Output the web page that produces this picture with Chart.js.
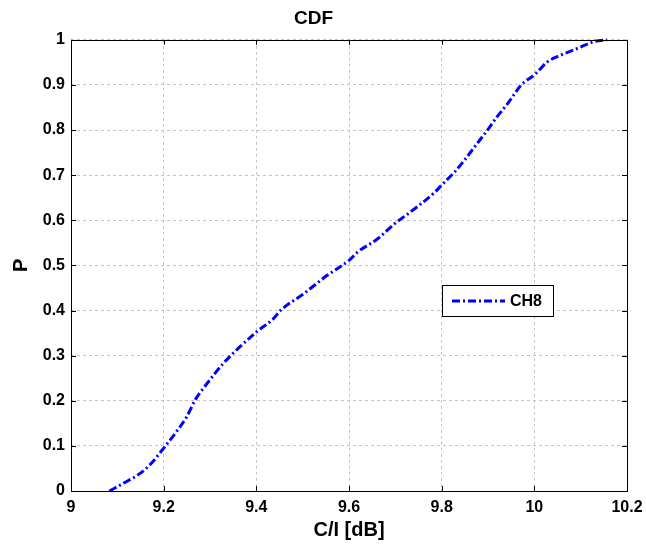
<!DOCTYPE html>
<html>
<head>
<meta charset="utf-8">
<script src="https://cdn.jsdelivr.net/npm/chart.js@4.4.1/dist/chart.umd.min.js"></script>
<style>
  html, body { margin: 0; padding: 0; background: #fff; }
</style>
</head>
<body>
<canvas id="cdf" width="646" height="546"></canvas>
<script>
// C/I values [dB] and cumulative probability
const ciValues = [
  9.083, 9.113, 9.149, 9.174, 9.203, 9.228, 9.250, 9.268, 9.286, 9.329,
  9.365, 9.401, 9.437, 9.452, 9.502, 9.553, 9.600, 9.618, 9.662, 9.698,
  9.727, 9.756, 9.785, 9.803, 9.828, 9.849, 9.872, 9.899, 9.917, 9.942,
  9.971, 10.003, 10.028, 10.057, 10.093, 10.129, 10.157
];
const pValues = [
  0.000, 0.017, 0.039, 0.062, 0.099, 0.132, 0.165, 0.202, 0.228, 0.283,
  0.320, 0.353, 0.382, 0.400, 0.437, 0.478, 0.511, 0.529, 0.559, 0.592,
  0.614, 0.637, 0.662, 0.681, 0.707, 0.733, 0.764, 0.800, 0.826, 0.858,
  0.899, 0.925, 0.951, 0.966, 0.981, 0.996, 1.000
];
const xTicks = [9, 9.2, 9.4, 9.6, 9.8, 10, 10.2];
const yTicks = [0, 0.1, 0.2, 0.3, 0.4, 0.5, 0.6, 0.7, 0.8, 0.9, 1];
const seriesName = 'CH8';

const FONT = '"Liberation Sans", Arial, Helvetica, sans-serif';
const LINE_DASH = [8, 3, 2, 3];

Chart.defaults.font.family = FONT;
Chart.defaults.color = '#000';

// MATLAB-style axes box, inner tick marks and legend
const matlabAxes = {
  id: 'matlabAxes',
  beforeDraw(chart) {
    const ctx = chart.ctx;
    ctx.save();
    ctx.fillStyle = '#fff';
    ctx.fillRect(0, 0, chart.width, chart.height);
    ctx.restore();
  },
  afterDatasetsDraw(chart) {
    const { ctx, chartArea: a, scales } = chart;
    const len = 5;
    ctx.save();
    ctx.strokeStyle = '#000';
    ctx.lineWidth = 1;
    ctx.beginPath();
    xTicks.forEach(v => {
      const x = Math.round(scales.x.getPixelForValue(v)) + 0.5;
      ctx.moveTo(x, a.bottom); ctx.lineTo(x, a.bottom - len);
      ctx.moveTo(x, a.top); ctx.lineTo(x, a.top + len);
    });
    yTicks.forEach(v => {
      const y = Math.round(scales.y.getPixelForValue(v)) + 0.5;
      ctx.moveTo(a.left, y); ctx.lineTo(a.left + len, y);
      ctx.moveTo(a.right, y); ctx.lineTo(a.right - len, y);
    });
    ctx.stroke();
    ctx.strokeRect(Math.round(a.left) + 0.5, Math.round(a.top) + 0.5,
                   Math.round(a.right - a.left), Math.round(a.bottom - a.top));

    // legend box
    const ds = chart.data.datasets[0];
    const bx = 442, by = 285, bw = 111, bh = 31;
    ctx.fillStyle = '#fff';
    ctx.fillRect(bx, by, bw, bh);
    ctx.strokeRect(bx + 0.5, by + 0.5, bw, bh);
    ctx.beginPath();
    ctx.strokeStyle = ds.borderColor;
    ctx.lineWidth = ds.borderWidth;
    ctx.setLineDash(LINE_DASH);
    ctx.moveTo(452, by + bh / 2 + 0.5);
    ctx.lineTo(505, by + bh / 2 + 0.5);
    ctx.stroke();
    ctx.setLineDash([]);
    ctx.fillStyle = '#000';
    ctx.font = 'bold 16px ' + FONT;
    ctx.textBaseline = 'middle';
    ctx.textAlign = 'left';
    ctx.fillText(ds.label, 510, by + bh / 2 + 1);
    ctx.restore();
  }
};

new Chart(document.getElementById('cdf'), {
  type: 'line',
  data: {
    datasets: [{
      label: seriesName,
      data: ciValues.map((x, i) => ({ x: x, y: pValues[i] })),
      borderColor: '#0000ff',
      borderWidth: 3,
      borderDash: LINE_DASH,
      pointRadius: 0,
      fill: false,
      cubicInterpolationMode: 'monotone',
      clip: 3
    }]
  },
  options: {
    responsive: false,
    animation: false,
    layout: { padding: { left: 0, right: 19, top: 0, bottom: 0 } },
    plugins: {
      legend: { display: false },
      tooltip: { enabled: false },
      title: {
        display: true,
        text: 'CDF',
        color: '#000',
        font: { size: 19, weight: 'bold' },
        padding: { top: 7, bottom: 10 }
      }
    },
    scales: {
      x: {
        type: 'linear',
        min: 9,
        max: 10.2,
        afterBuildTicks: s => { s.ticks = xTicks.map(v => ({ value: v })); },
        afterFit: s => { s.height = 55; s.paddingLeft = 0; s.paddingRight = 0; },
        ticks: {
          autoSkip: false,
          maxRotation: 0,
          padding: 7,
          color: '#000',
          font: { size: 16, weight: 'bold' },
          callback: v => String(v)
        },
        grid: { color: '#c4c4c4', lineWidth: 1, drawTicks: false },
        border: { display: false, dash: [3, 3] },
        title: {
          display: true,
          text: 'C/I [dB]',
          color: '#000',
          font: { size: 20, weight: 'bold' },
          padding: 4
        }
      },
      y: {
        type: 'linear',
        min: 0,
        max: 1,
        afterBuildTicks: s => { s.ticks = yTicks.map(v => ({ value: v })); },
        afterFit: s => { s.width = 71; },
        ticks: {
          autoSkip: false,
          padding: 6,
          color: '#000',
          font: { size: 16, weight: 'bold' },
          callback: v => String(v)
        },
        grid: { color: '#c4c4c4', lineWidth: 1, drawTicks: false },
        border: { display: false, dash: [3, 3] },
        title: {
          display: true,
          text: 'P',
          color: '#000',
          font: { size: 20, weight: 'bold' },
          padding: 9
        }
      }
    }
  },
  plugins: [matlabAxes]
});
</script>
</body>
</html>
